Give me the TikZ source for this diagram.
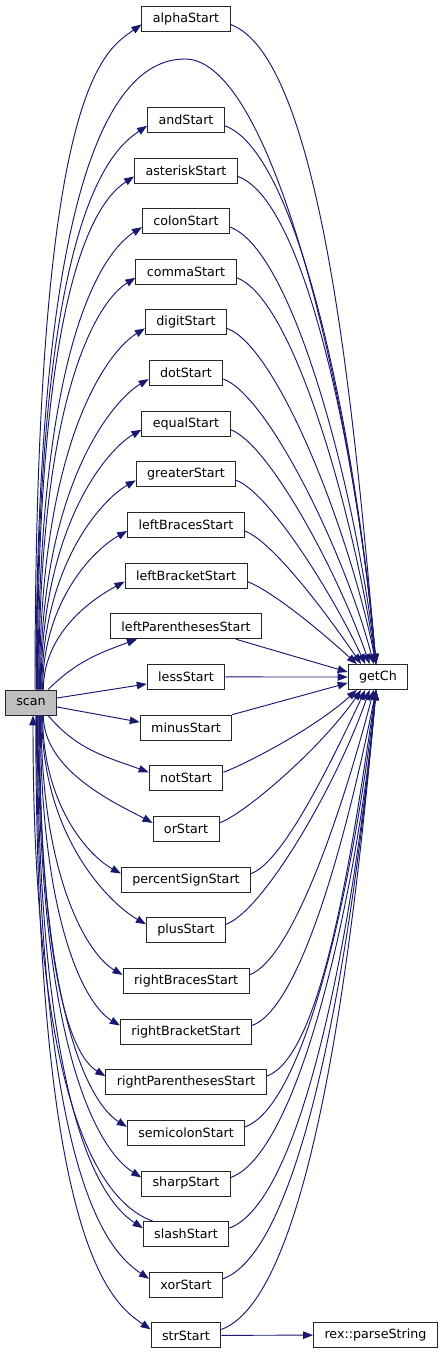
\documentclass[tikz,border=0pt]{standalone}
\usepackage{fontspec}
\setmainfont{DejaVu Sans}
\usetikzlibrary{arrows.meta}
\definecolor{edgeblue}{RGB}{25,25,112}
\def\aboverow{alphaStart/0,andStart/2,asteriskStart/3,colonStart/4,commaStart/5,digitStart/6,dotStart/7,equalStart/8,greaterStart/9,leftBracesStart/10,leftBracketStart/11}
\def\belowrow{notStart/15,orStart/16,percentSignStart/17,plusStart/18,rightBracesStart/19,rightBracketStart/20,rightParenthesesStart/21,semicolonStart/22,sharpStart/23,slashStart/24,xorStart/25,strStart/26}

\begin{document}
\begin{tikzpicture}[x=1pt,y=1pt,every node/.style={font=\fontsize{12.7}{15}\selectfont},
   fn/.style={draw=black!85,line width=0.9pt,minimum height=25pt,inner xsep=11pt,inner ysep=0pt},
   call/.style={edgeblue,line width=0.95pt,-{Triangle[length=10pt,width=7.5pt]}}]
  \useasboundingbox (0,0) rectangle (447,-1355);
  \node[fn,fill=black!25](scan) at (31,-702.5){scan};
  \node[fn](getCh) at (378,-677){getCh};
  \foreach \n/\r in \aboverow{\node[fn](\n) at (186,{-18.5-50.65*\r}){\n};}
  \foreach \n/\r in \belowrow{\node[fn](\n) at (186,{-18.5-50.65*\r}){\n};}
  \foreach \n/\r in {leftParenthesesStart/12,lessStart/13,minusStart/14}{\node[fn](\n) at (186,{-18.5-50.65*\r}){\n};}
  \node[fn](parse) at (375.5,-1335){rex::parseString};
  % scan -> callees above and below
  \foreach \n/\r in \aboverow{
    \pgfmathsetmacro\dy{684-18.5-50.65*\r}\pgfmathsetmacro\f{\dy/665}
    \pgfmathsetmacro\lo{\dy*(0.45+0.45*\f)}\pgfmathsetmacro\li{35+0.02*\dy}
    \pgfmathsetmacro\ia{207+8*\f}\pgfmathsetmacro\sx{14-10*\f}
    \draw[call]([xshift=\sx pt]scan.north) to[out=90,in=\ia,out distance=\lo pt,in distance=\li pt]([yshift=-6pt]\n.west);}
  \foreach \n/\r in {orStart/16,percentSignStart/17,plusStart/18,rightBracesStart/19,rightBracketStart/20,rightParenthesesStart/21,semicolonStart/22,sharpStart/23,slashStart/24,xorStart/25,strStart/26}{
    \pgfmathsetmacro\dy{18.5+50.65*\r-721}\pgfmathsetmacro\f{\dy/665}
    \pgfmathsetmacro\lo{\dy*(0.45+0.45*\f)}\pgfmathsetmacro\li{35+0.02*\dy}
    \pgfmathsetmacro\ia{153-8*\f}\pgfmathsetmacro\sx{14-10*\f}
    \draw[call]([xshift=\sx pt]scan.south) to[out=-90,in=\ia,out distance=\lo pt,in distance=\li pt]([yshift=6pt]\n.west);}
  \draw[call]([xshift=-9pt]scan.north east) to[out=45,in=200]([xshift=27pt]leftParenthesesStart.south west);
  \draw[call]([yshift=4.5pt]scan.east)--([yshift=-7pt]lessStart.west);
  \draw[call]([yshift=-4.5pt]scan.east)--([yshift=5.5pt]minusStart.west);
  \draw[call]([xshift=-9pt]scan.south east) to[out=-50,in=160]([yshift=6pt]notStart.west);
  \coordinate(peak) at (185,-59);
  \draw[call]([xshift=5pt]scan.north) to[out=90,in=180,out distance=450pt,in distance=90pt](peak)
    to[out=0,in=95,out distance=90pt,in distance=250pt]([xshift=-2pt]getCh.north);
  \draw[call]([xshift=10pt]slashStart.north west) to[out=160,in=-90,out distance=60pt,in distance=380pt]([xshift=2pt]scan.south);
  % callees -> getCh
  \foreach \n/\r in \aboverow{
    \pgfmathsetmacro\g{658-18.5-50.65*\r}
    \pgfmathsetmacro\ia{180-min(85,atan2(\g,130)+10)}
    \pgfmathsetmacro\L{veclen(\g,130)}
    \pgfmathsetmacro\go{0.15*\L}\pgfmathsetmacro\gi{0.37*\L}
    \pgfmathsetmacro\sx{min(26,\g/12)-28}
    \draw[call]([yshift=-6pt]\n.east) to[out=-20,in=\ia,out distance=\go pt,in distance=\gi pt]([xshift=\sx pt]getCh.north);}
  \foreach \n/\r in \belowrow{
    \pgfmathsetmacro\g{18.5+50.65*\r-696}
    \pgfmathsetmacro\ia{180+min(85,atan2(\g,130)+10)}
    \pgfmathsetmacro\L{veclen(\g,130)}
    \pgfmathsetmacro\go{0.15*\L}\pgfmathsetmacro\gi{0.37*\L}
    \pgfmathsetmacro\sx{min(26,\g/12)-28}
    \draw[call]([yshift=6pt]\n.east) to[out=20,in=\ia,out distance=\go pt,in distance=\gi pt]([xshift=\sx pt]getCh.south);}
  \draw[call]([xshift=-26pt]leftParenthesesStart.south east)--([yshift=5pt]getCh.west);
  \draw[call](lessStart.east)--(getCh.west);
  \draw[call](minusStart.north east)--([yshift=-6pt]getCh.west);
  \draw[call](strStart)--(parse);
\end{tikzpicture}
\end{document}
